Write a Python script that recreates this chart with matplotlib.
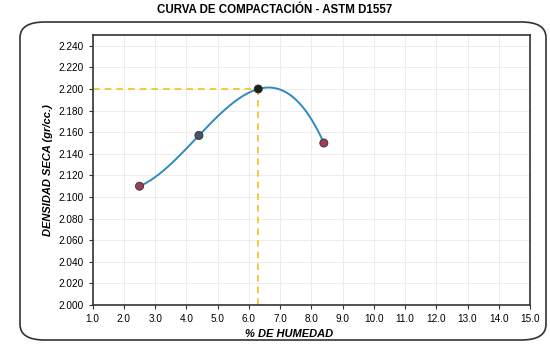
import numpy as np
import matplotlib.pyplot as plt
from matplotlib.patches import FancyBboxPatch

plt.rcParams['font.family'] = ['Liberation Sans', 'DejaVu Sans']

# datos del ensayo Proctor
humedad = [2.5, 4.4, 6.3, 8.4]
densidad = [2.110, 2.157, 2.200, 2.150]
colores_punto = ['#9a3d5c', '#4b4f70', '#1e1e1e', '#a03c58']

# optimo
hum_opt = 6.3
dens_max = 2.200

x_ticks = np.arange(1.0, 15.01, 1.0)
y_ticks = np.arange(2.000, 2.2401, 0.020)

fig = plt.figure(figsize=(5.5, 3.46), dpi=100)

# marco redondeado exterior
marco = FancyBboxPatch((20 / 550, 1 - 340 / 346), 526 / 550, 318 / 346,
                       boxstyle="round,pad=0,rounding_size=0.045",
                       transform=fig.transFigure, fill=False,
                       edgecolor='#333333', linewidth=1.2)
fig.patches.append(marco)

ax = fig.add_axes([92.7 / 550, 1 - 305 / 346, (530 - 92.7) / 550, (305 - 35) / 346])

# curva ajustada (polinomio de grado 3)
coef = np.polyfit(humedad, densidad, 3)
xs = np.linspace(humedad[0], humedad[-1], 200)
ax.plot(xs, np.polyval(coef, xs), color='#2f8bbd', linewidth=1.4, zorder=3)

ax.scatter(humedad, densidad, s=34, c=colores_punto, edgecolors='#333333',
           linewidths=0.6, zorder=4)

# lineas al optimo
ax.plot([1.0, hum_opt], [dens_max, dens_max], color='#f2c21b', linestyle='--',
        linewidth=1.2, dashes=(4, 3), zorder=2)
ax.plot([hum_opt, hum_opt], [2.0, dens_max], color='#f2c21b', linestyle='--',
        linewidth=1.2, dashes=(4, 3), zorder=2)

ax.set_xlim(1.0, 15.0)
ax.set_ylim(2.000, 2.250)
ax.set_xticks(x_ticks)
ax.set_xticklabels([f"{v:.1f}" for v in x_ticks])
ax.set_yticks(y_ticks)
ax.set_yticklabels([f"{v:.3f}" for v in y_ticks])
ax.tick_params(labelsize=7.2, length=3, width=0.8, color='#333333')
ax.grid(True, color='#ececec', linewidth=0.7)
for s in ax.spines.values():
    s.set_linewidth(1.2)
    s.set_color('#333333')

ax.set_xlabel('% DE HUMEDAD', fontsize=8, fontweight='bold', style='italic')
ax.xaxis.set_label_coords(0.45, -0.09)
ax.set_ylabel('DENSIDAD SECA (gr/cc.)', fontsize=8, fontweight='bold', style='italic', labelpad=4)

fig.text(0.5, 1 - 10 / 346, 'CURVA DE COMPACTACIÓN - ASTM D1557', ha='center', va='center',
         fontsize=8.3, fontweight='bold')

fig.savefig('out.png', dpi=100)
